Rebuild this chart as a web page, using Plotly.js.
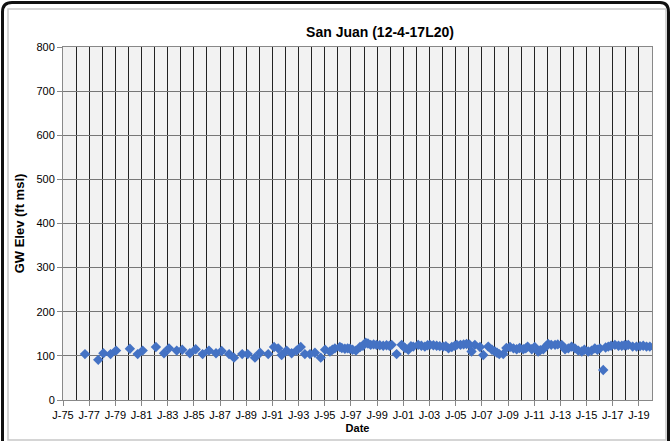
<!DOCTYPE html>
<html>
<head>
<meta charset="utf-8">
<script src="https://cdn.plot.ly/plotly-3.0.1.min.js"></script>
<style>
html,body{margin:0;padding:0;background:#fff;}
#chart{width:671px;height:445px;}
</style>
</head>
<body>
<div id="chart"></div>
<script>
// Measurement dates and groundwater elevations (ft msl)
const dates = [
  '1976-09-05','1977-09-10','1978-02-01','1978-08-20','1979-01-20',
  '1980-02-10','1980-09-15','1981-02-01','1982-02-05','1982-09-20',
  '1983-02-05','1983-09-10','1984-02-10','1984-09-10','1985-02-20',
  '1985-09-01','1986-02-25','1986-09-10','1987-02-15','1987-09-10',
  '1988-01-25','1988-09-10','1989-02-10','1989-09-01','1990-01-20',
  '1990-09-05','1991-02-15','1991-06-10','1991-09-15','1992-02-01',
  '1992-06-20','1992-11-05','1993-03-01','1993-06-25','1993-11-15',
  '1994-04-01','1994-09-10','1995-01-10','1995-05-25','1995-10-10',
  '1996-02-25','1996-07-15','1996-12-05','1997-05-20','1997-09-10',
  '1998-02-15','1998-07-05','1998-12-15','1999-06-20','2000-02-10',
  '2000-06-28','2000-11-15','2001-05-20','2001-10-05','2002-02-20',
  '2002-08-25','2003-01-15','2003-07-20','2004-01-20','2004-06-15',
  '2005-02-01','2005-05-15','2005-11-01','2006-03-20','2006-06-20',
  '2006-11-10','2007-02-10','2007-06-28','2008-01-01','2008-05-01',
  '2008-08-20','2009-02-25','2009-06-01','2009-08-30','2010-03-01',
  '2010-07-01','2010-10-25','2011-04-20','2011-09-10','2012-01-25',
  '2012-04-20','2012-08-05','2013-02-05','2013-05-10','2013-08-10',
  '2014-02-10','2014-05-15','2014-08-20','2015-02-15','2015-05-20',
  '2015-08-20','2016-01-10','2016-04-10','2016-08-30','2017-03-01',
  '2017-06-10','2017-09-10','2018-03-10','2018-07-10','2018-10-25',
  '2019-05-01','2019-08-01','2019-11-01',
  // additional readings inside the dense band
  '1995-08-01','1996-04-20','1996-10-01','1997-02-15','1997-12-01',
  '1998-04-20','1998-09-25','1999-03-15','1999-09-20','1999-12-10',
  '2001-02-15','2001-08-01','2002-05-20','2002-11-10','2003-04-20',
  '2003-10-15','2004-04-01','2004-09-15','2004-12-10','2005-08-10',
  '2006-01-15','2007-10-10','2008-03-01','2008-11-15','2009-11-20',
  '2010-05-10','2011-01-15','2011-06-20','2011-12-01','2012-10-20',
  '2013-11-10','2014-11-01','2015-11-01','2016-06-15','2016-11-15',
  '2017-11-25','2018-01-15','2019-02-01'
];
const elev = [
  104, 91, 106, 104, 112,
  116, 104, 112, 120, 106,
  117, 112, 114, 106, 115,
  104, 112, 106, 111, 104,
  96, 104, 104, 96, 107,
  104, 120, 117, 102, 112,
  106, 112, 120, 104, 104,
  107, 96, 114, 110, 117,
  120, 116, 116, 112, 120,
  130, 125, 125, 123, 125,
  104, 125, 114, 121, 125,
  121, 125, 123, 121, 117,
  125, 125, 127, 110, 125,
  120, 102, 121, 110, 104,
  104, 120, 117, 115, 115,
  121, 115, 110, 115, 127,
  125, 125, 125, 115, 117,
  117, 112, 110, 110, 112,
  117, 117, 68, 121, 125,
  123, 123, 125, 121, 121,
  123, 121, 121,
  114, 118, 117, 114, 123,
  128, 126, 124, 124, 123,
  118, 122, 123, 124, 124,
  122, 122, 120, 123, 126,
  126, 114, 107, 118, 118,
  117, 120, 113, 122, 126,
  121, 114, 114, 119, 123,
  124, 124, 122
];
const yTicks = [0, 100, 200, 300, 400, 500, 600, 700, 800];
const xTickVals = ['1975-01-01','1977-01-01','1979-01-01','1981-01-01','1983-01-01','1985-01-01',
  '1987-01-01','1989-01-01','1991-01-01','1993-01-01','1995-01-01','1997-01-01','1999-01-01',
  '2001-01-01','2003-01-01','2005-01-01','2007-01-01','2009-01-01','2011-01-01','2013-01-01',
  '2015-01-01','2017-01-01','2019-01-01'];
const xTickText = ['J-75','J-77','J-79','J-81','J-83','J-85','J-87','J-89','J-91','J-93','J-95',
  'J-97','J-99','J-01','J-03','J-05','J-07','J-09','J-11','J-13','J-15','J-17','J-19'];

// pixel -> paper helpers for frame shapes (plot: l=63, r=652, t=47, b=400)
const L = 63, R = 652, T = 47, B = 400;
const px = x => (x - L) / (R - L);
const py = y => (B - y) / (B - T);

const trace = {
  x: dates, y: elev, type: 'scatter', mode: 'markers',
  marker: {symbol: 'diamond', size: 8, color: '#4472C4'},
  hoverinfo: 'x+y', showlegend: false
};

const layout = {
  width: 671, height: 445,
  margin: {l: L, r: 671 - R, t: T, b: 445 - B, pad: 0},
  paper_bgcolor: '#ffffff',
  plot_bgcolor: '#f2f2f2',
  font: {family: 'Liberation Sans, Arial, sans-serif', size: 11, color: '#000'},
  title: {text: '<b>San Juan (12-4-17L20)</b>', font: {size: 14, color: '#000'},
          x: 380 / 671, xref: 'container', xanchor: 'center', y: 1 - 32/445, yanchor: 'middle'},
  xaxis: {
    type: 'date', range: ['1975-01-01', '2020-01-01'],
    tickmode: 'array', tickvals: xTickVals, ticktext: xTickText,
    ticks: 'outside', ticklen: 5, tickcolor: '#888',
    showgrid: true, gridcolor: '#222', gridwidth: 1,
    minor: {dtick: 'M12', tick0: '1975-01-01', showgrid: true, gridcolor: '#222', gridwidth: 1, ticks: ''},
    showline: true, linecolor: '#888', linewidth: 1, mirror: true,
    zeroline: false, tickangle: 0,
    tickfont: {size: 11, color: '#000'},
    title: {text: '<b>Date</b>', font: {size: 11, color: '#000'}, standoff: 4}
  },
  yaxis: {
    range: [0, 800], tickmode: 'array', tickvals: yTicks,
    ticks: 'outside', ticklen: 5, tickcolor: '#888',
    showgrid: true, gridcolor: '#777', gridwidth: 1,
    showline: true, linecolor: '#888', linewidth: 1, mirror: true,
    zeroline: false,
    tickfont: {size: 11, color: '#000'},
    title: {text: '<b>GW Elev (ft msl)</b>', font: {size: 13, color: '#000'}, standoff: 8}
  },
  shapes: [
    {type: 'rect', xref: 'paper', yref: 'paper', x0: px(8), x1: px(666), y0: py(440), y1: py(9),
     line: {color: '#c8c8c8', width: 1.5}, fillcolor: 'rgba(0,0,0,0)', layer: 'below'},
    {type: 'path', xref: 'paper', yref: 'paper',
     path: 'M ' + px(2.5) + ',' + py(441) + ' L ' + px(2.5) + ',' + py(12) +
           ' Q ' + px(2.5) + ',' + py(2.5) + ' ' + px(12) + ',' + py(2.5) +
           ' L ' + px(660) + ',' + py(2.5) + ' Q ' + px(668.5) + ',' + py(2.5) + ' ' + px(668.5) + ',' + py(12) +
           ' L ' + px(668.5) + ',' + py(441),
     line: {color: '#111', width: 3}, layer: 'below'}
  ]
};

Plotly.newPlot('chart', [trace], layout, {displayModeBar: false, staticPlot: true});
</script>
</body>
</html>
